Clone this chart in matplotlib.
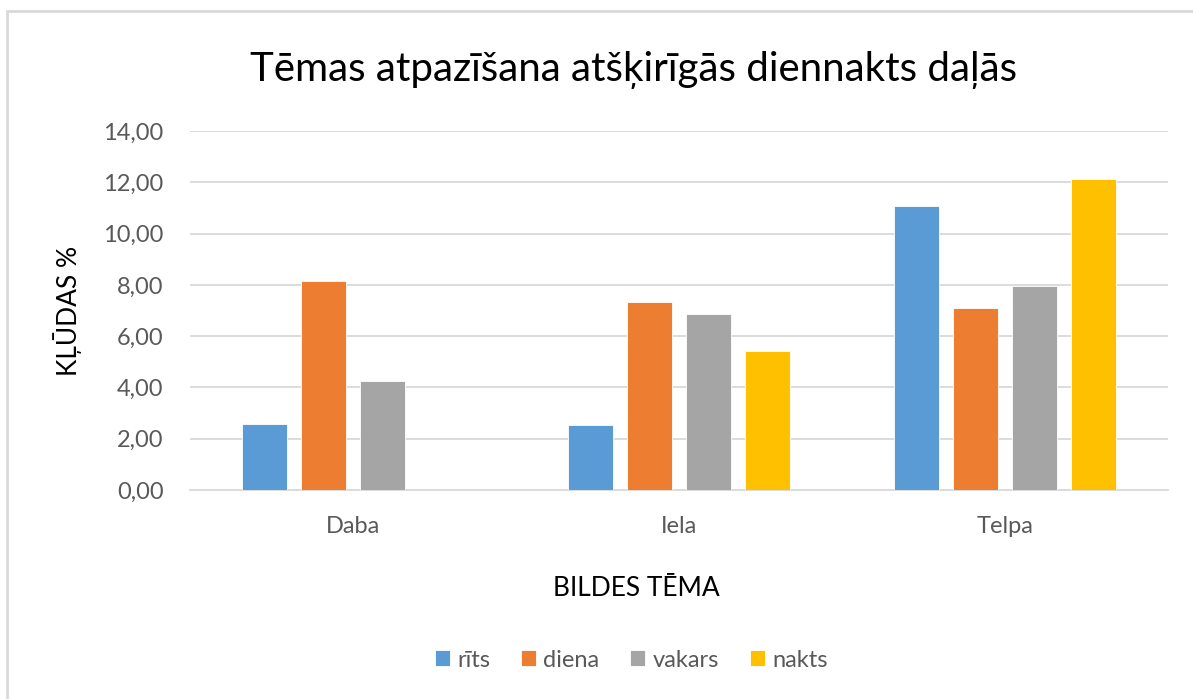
import numpy as np
import matplotlib.pyplot as plt
from matplotlib.patches import Rectangle
from matplotlib.ticker import FuncFormatter

plt.rcParams['font.family'] = ['Lato', 'DejaVu Sans']

categories = ['Daba', 'Iela', 'Telpa']
series = ['rīts', 'diena', 'vakars', 'nakts']
rits = [2.57, 2.52, 11.06]
diena = [8.16, 7.33, 7.09]
vakars = [4.26, 6.85, 7.94]
nakts = [0.0, 5.41, 12.14]
colors = ['#5b9bd5', '#ed7d31', '#a5a5a5', '#ffc000']

fig = plt.figure(figsize=(11.93, 6.99), dpi=100)
ax = fig.add_axes([190 / 1193, 1 - 490 / 699, 978 / 1193, 359 / 699])

x = np.arange(len(categories))
step = 0.181
width = 0.141
for i, (vals, name) in enumerate(zip([rits, diena, vakars, nakts], series)):
    ax.bar(x + (i - 1.5) * step, vals, width, color=colors[i], label=name,
           edgecolor='white', linewidth=0.6, zorder=3)

ax.set_xlim(-0.5, 2.5)
ax.set_ylim(0, 14)
ax.set_yticks(np.arange(0, 15, 2))
ax.yaxis.set_major_formatter(FuncFormatter(lambda v, p: f'{v:.2f}'.replace('.', ',')))
ax.set_xticks(x)
ax.set_xticklabels(categories)
ax.grid(axis='y', color='#d9d9d9', linewidth=1.3, zorder=0)
for s in ['top', 'right', 'left']:
    ax.spines[s].set_visible(False)
ax.spines['bottom'].set_color('#d9d9d9')
ax.spines['bottom'].set_linewidth(1.3)
ax.tick_params(length=0, colors='#595959', labelsize=17)
ax.tick_params(axis='y', pad=19)
ax.tick_params(axis='x', pad=19)

ax.set_ylabel('KĻŪDAS %', fontsize=19, color='black', va='center')
ax.yaxis.set_label_coords(-0.125, 0.5)
ax.set_xlabel('BILDES TĒMA', fontsize=19, color='black', va='center')
ax.xaxis.set_label_coords(0.456, -0.273)

fig.text(0.531, 1 - 70 / 699, 'Tēmas atpazīšana atšķirīgās diennakts daļās',
         ha='center', va='center', fontsize=29, color='black')

leg = ax.legend(loc='center', bbox_to_anchor=(0.451, -0.474), ncol=4, frameon=False,
                fontsize=17, handlelength=0.65, handleheight=0.65, handletextpad=0.3,
                columnspacing=1.3, labelcolor='#595959')

fig.patches.append(Rectangle((7 / 1193, -0.1), 1.2, 1 - 11 / 699 + 0.1,
                             transform=fig.transFigure, fill=False,
                             edgecolor='#d9d9d9', linewidth=2))

fig.savefig('out.png', dpi=100)
